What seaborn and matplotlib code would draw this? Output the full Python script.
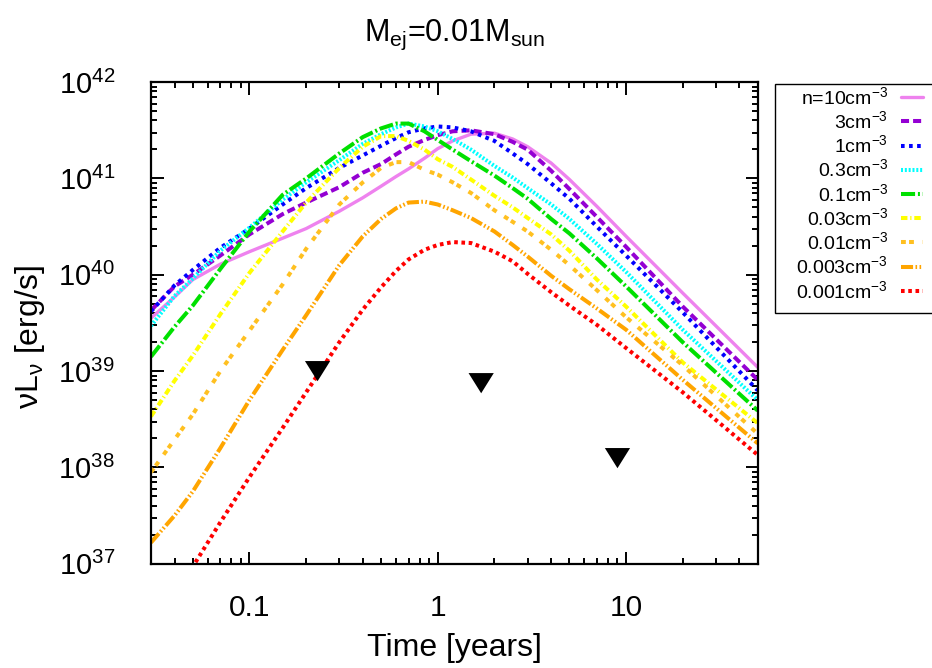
import numpy as np
import matplotlib
matplotlib.use('Agg')
import matplotlib.pyplot as plt
from matplotlib.ticker import FuncFormatter, LogLocator
from matplotlib.patches import Rectangle
import seaborn as sns

sns.set_theme(style='ticks')
plt.rcParams['font.family'] = ['Liberation Sans', 'DejaVu Sans']
plt.rcParams['mathtext.fontset'] = 'custom'
plt.rcParams['mathtext.rm'] = 'Liberation Sans'
plt.rcParams['mathtext.it'] = 'Liberation Sans:italic'
plt.rcParams['mathtext.default'] = 'regular'
for key in ['text.color', 'axes.labelcolor', 'xtick.color', 'ytick.color', 'axes.edgecolor']:
    plt.rcParams[key] = 'black'

# time grid in years, values are log10(nu L_nu / erg s^-1)
time_yr = [0.03, 0.04, 0.05, 0.07, 0.1, 0.15, 0.2, 0.3, 0.4, 0.5, 0.6, 0.7, 0.85,
           1.0, 1.2, 1.5, 2.0, 2.5, 3.0, 4.0, 5.0, 7.0, 10, 20, 50]

logL_n10 = [39.55, 39.77, 39.95, 40.11, 40.24, 40.38, 40.48, 40.66, 40.80, 40.92, 41.02, 41.10, 41.21,
            41.31, 41.39, 41.46, 41.47, 41.41, 41.33, 41.16, 40.99, 40.71, 40.40, 39.81, 39.04]
logL_n3 = [39.63, 39.88, 40.00, 40.20, 40.42, 40.63, 40.75, 40.91, 41.06, 41.15, 41.25, 41.33, 41.40,
           41.45, 41.49, 41.50, 41.46, 41.38, 41.30, 41.08, 40.89, 40.60, 40.29, 39.67, 38.91]
logL_n1 = [39.62, 39.89, 40.05, 40.28, 40.48, 40.73, 40.90, 41.11, 41.24, 41.34, 41.42, 41.48, 41.52,
           41.54, 41.53, 41.49, 41.39, 41.26, 41.15, 40.95, 40.79, 40.50, 40.20, 39.61, 38.80]
logL_n03 = [39.47, 39.78, 39.96, 40.25, 40.49, 40.78, 40.96, 41.19, 41.36, 41.46, 41.53, 41.57, 41.54,
            41.49, 41.41, 41.30, 41.13, 41.01, 40.90, 40.73, 40.58, 40.32, 40.03, 39.43, 38.70]
logL_n01 = [39.15, 39.46, 39.68, 40.06, 40.45, 40.83, 41.00, 41.26, 41.43, 41.52, 41.57, 41.57, 41.49,
            41.40, 41.30, 41.18, 41.03, 40.90, 40.79, 40.58, 40.43, 40.17, 39.88, 39.30, 38.59]
logL_n003 = [38.53, 38.90, 39.16, 39.59, 40.02, 40.45, 40.75, 41.11, 41.33, 41.44, 41.44, 41.39, 41.30,
             41.20, 41.12, 40.99, 40.82, 40.70, 40.59, 40.42, 40.25, 39.95, 39.67, 39.09, 38.46]
logL_n001 = [37.95, 38.29, 38.55, 39.00, 39.42, 39.90, 40.27, 40.73, 40.96, 41.11, 41.17, 41.17, 41.09,
             41.04, 40.96, 40.85, 40.67, 40.55, 40.45, 40.26, 40.10, 39.84, 39.56, 39.06, 38.35]
logL_n0003 = [37.22, 37.50, 37.75, 38.20, 38.70, 39.22, 39.58, 40.10, 40.40, 40.58, 40.69, 40.75, 40.76,
              40.73, 40.67, 40.59, 40.45, 40.31, 40.19, 39.99, 39.85, 39.65, 39.43, 38.91, 38.25]
# the lowest density curve only enters the frame after ~0.05 yr
time_red = time_yr[1:]
logL_n0001 = [36.71, 36.97, 37.43, 37.90, 38.41, 38.78, 39.30, 39.64, 39.87, 40.04, 40.16, 40.26,
              40.31, 40.34, 40.33, 40.24, 40.14, 40.01, 39.82, 39.68, 39.48, 39.24, 38.78, 38.13]

labels = ['n=10cm$^{-3}$', '3cm$^{-3}$', '1cm$^{-3}$', '0.3cm$^{-3}$', '0.1cm$^{-3}$',
          '0.03cm$^{-3}$', '0.01cm$^{-3}$', '0.003cm$^{-3}$', '0.001cm$^{-3}$']
colors = ['violet', '#9400d3', '#0000ff', '#00ffff', '#00e000',
          '#ffff00', '#ffc020', '#ffa500', '#ff0000']
styles = ['-', (0, (2, 1)), (0, (0.9, 1.1)), (0, (0.5, 0.45)), (0, (3.5, 0.7, 0.5, 0.7)),
          (0, (1.6, 0.7, 0.3, 0.7)), (0, (1.2, 0.8, 1.2, 2.2)), (0, (3, 0.6, 0.4, 0.6, 0.4, 0.6)),
          (0, (0.9, 0.9))]
widths = [2.4, 2.9, 2.9, 2.9, 2.9, 2.9, 2.9, 2.9, 2.9]

obs_time = [0.23, 1.7, 9.0]
obs_lum = [1.0e39, 7.5e38, 1.25e38]

series = [(time_yr, logL_n10), (time_yr, logL_n3), (time_yr, logL_n1), (time_yr, logL_n03),
          (time_yr, logL_n01), (time_yr, logL_n003), (time_yr, logL_n001), (time_yr, logL_n0003),
          (time_red, logL_n0001)]

fig = plt.figure(figsize=(9.32, 6.68), dpi=100)
ax = fig.add_axes([0.162, 0.156, 0.651, 0.721])

for (t, lg), lab, col, ls, lw in zip(series, labels, colors, styles, widths):
    sns.lineplot(x=t, y=10 ** np.array(lg), ax=ax, color=col, linestyle=ls,
                 linewidth=lw, label=lab, sort=False)

# flat downward triangle, a bit wider than tall like gnuplot's pt 11
tri_down = [(-1.25, 1), (1.25, 1), (0, -1), (-1.25, 1)]
sns.scatterplot(x=obs_time, y=obs_lum, ax=ax, marker=tri_down, s=330, color='black',
                edgecolor='none', zorder=5)

ax.set_xscale('log')
ax.set_yscale('log')
ax.set_xlim(0.03, 50)
ax.set_ylim(1e37, 1e42)
ax.xaxis.set_major_formatter(FuncFormatter(lambda v, _: f'{v:g}'))
ax.yaxis.set_major_locator(LogLocator(base=10, numticks=10))

for sp in ax.spines.values():
    sp.set_linewidth(1.6)
    sp.set_color('black')
ax.tick_params(which='both', direction='in', top=True, right=True, color='black', width=1.4)
ax.tick_params(which='major', length=9)
ax.tick_params(which='minor', length=4.5)
ax.tick_params(axis='x', which='major', labelsize=21.5, pad=22)
ax.tick_params(axis='y', which='major', labelsize=21, pad=26)

ax.set_xlabel('Time [years]', fontsize=23)
ax.xaxis.label.set_va('center')
ax.xaxis.set_label_coords(0.5, -0.175)
ax.set_ylabel('νL$_{ν}$ [erg/s]', fontsize=23)
ax.yaxis.label.set_va('center')
ax.yaxis.set_label_coords(-0.199, 0.47)

fig.text(0.4877, 0.948, 'M$_{ej}$=0.01M$_{sun}$', fontsize=22, ha='center', va='center')

# gnuplot-like key: fixed box, text right aligned with the sample on its right
fig.patches.append(Rectangle((775 / 932, 1 - 313 / 668), 160 / 932, 229 / 668,
                             transform=fig.transFigure, facecolor='white',
                             edgecolor='black', linewidth=1.0, zorder=-1))
leg = ax.legend(loc='upper right', bbox_to_anchor=(923 / 932, 1 - 86 / 668),
                bbox_transform=fig.transFigure, markerfirst=False, fontsize=14,
                frameon=False, handlelength=1.15, handletextpad=0.65,
                labelspacing=0.12, borderpad=0, borderaxespad=0)

fig.savefig('out.png', dpi=100)
